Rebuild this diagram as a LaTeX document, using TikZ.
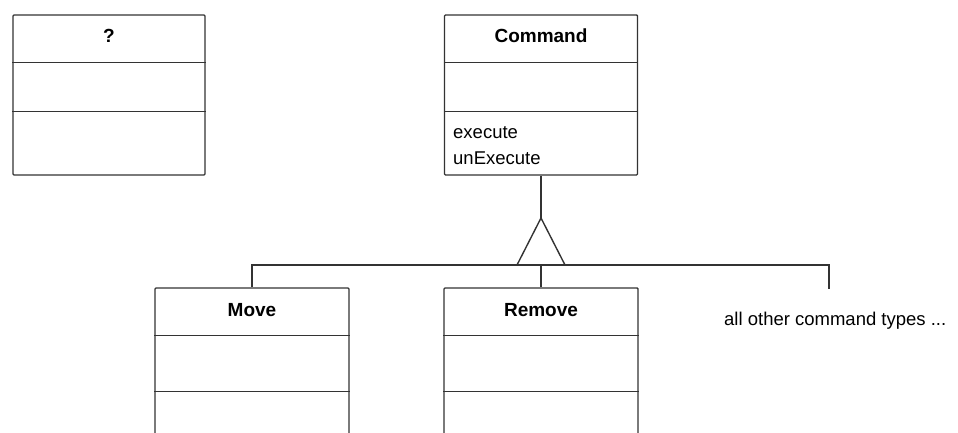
\documentclass[tikz,border=0pt]{standalone}
\usepackage{fontspec}
\setmainfont{Liberation Sans}
\begin{document}
\begin{tikzpicture}[x=1bp,y=-1bp,
  umlbox/.style={draw=black!80, line width=1.4bp, rectangle, inner sep=0pt, rounded corners=1bp},
  conn/.style={draw=black!80, line width=1.4bp},
  ttl/.style={font=\fontsize{19bp}{22bp}\selectfont\bfseries, anchor=base, inner sep=0pt},
  ops/.style={font=\fontsize{18.5bp}{22bp}\selectfont, anchor=base west, inner sep=0pt}]
\useasboundingbox (0,0) rectangle (958,433);
\clip (0,0) rectangle (958,433);
% ? class
\node[umlbox, minimum width=192bp, minimum height=160bp] (q) at (109,95) {};
\draw[conn] ([yshift=-48bp]q.north west) -- ([yshift=-48bp]q.north east);
\draw[conn] ([yshift=-97bp]q.north west) -- ([yshift=-97bp]q.north east);
\node[ttl] (qt) at (109,43) {?};
% Command class
\node[umlbox, minimum width=193bp, minimum height=160bp] (cmd) at (541,95) {};
\draw[conn] ([yshift=-48bp]cmd.north west) -- ([yshift=-48bp]cmd.north east);
\draw[conn] ([yshift=-97bp]cmd.north west) -- ([yshift=-97bp]cmd.north east);
\node[ttl] (cmdt) at (541,43) {Command};
\node[ops] (ex) at (453,139) {execute};
\node[ops] (unex) at (453,165) {unExecute};
% Move class
\node[umlbox, minimum width=194bp, minimum height=180bp] (move) at (252,378) {};
\draw[conn] ([yshift=-48bp]move.north west) -- ([yshift=-48bp]move.north east);
\draw[conn] ([yshift=-104bp]move.north west) -- ([yshift=-104bp]move.north east);
\node[ttl] (movet) at (252,317) {Move};
% Remove class
\node[umlbox, minimum width=194bp, minimum height=180bp] (remove) at (541,378) {};
\draw[conn] ([yshift=-48bp]remove.north west) -- ([yshift=-48bp]remove.north east);
\draw[conn] ([yshift=-104bp]remove.north west) -- ([yshift=-104bp]remove.north east);
\node[ttl] (removet) at (541,317) {Remove};
% other types
\node[ops] (other) at (724,326) {all other command types ...};
\coordinate (otherend) at (829,289);
% generalization
\coordinate (apex) at (541,218);
\coordinate (tribase) at (541,265);
\draw[conn] (cmd.south) -- (apex);
\draw[conn, line join=miter] (apex) -- ++(-24,47) -- ++(48,0) -- cycle;
\draw[conn] (move.north) -- (move.north |- tribase) -- (otherend |- tribase) -- (otherend);
\draw[conn] (remove.north) -- (tribase);
\end{tikzpicture}
\end{document}
